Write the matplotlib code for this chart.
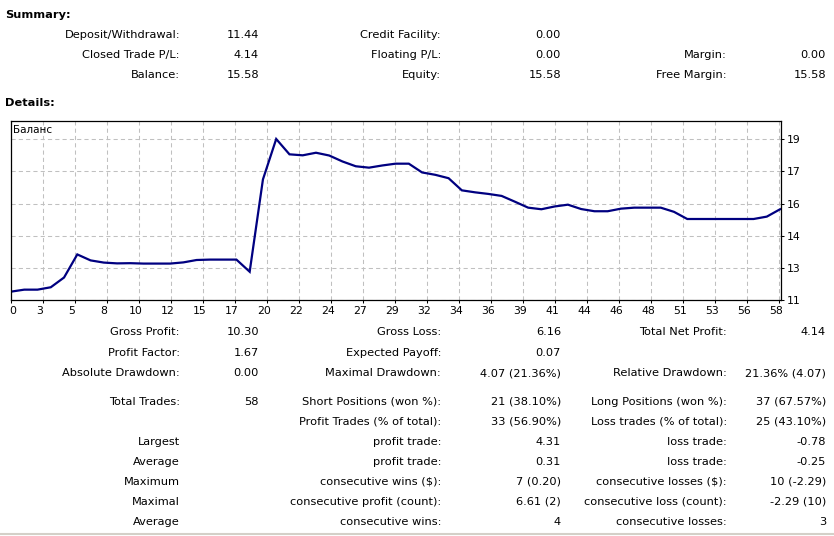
"""MT4 strategy tester report: summary, balance curve and details table."""
import matplotlib
matplotlib.use('Agg')
import matplotlib.pyplot as plt
import matplotlib.transforms as mtransforms

W, H = 834, 536
FONT = 'DejaVu Sans'
FS = 8.2
TICK_FS = 7.8

# balance after each trade (trade 0 = initial deposit)
balance = [11.44, 11.54, 11.54, 11.66, 12.15, 13.31, 13.01, 12.90, 12.86, 12.87,
           12.85, 12.85, 12.85, 12.91, 13.03, 13.05, 13.05, 13.05, 12.44, 17.08,
           19.11, 18.34, 18.29, 18.42, 18.28, 17.98, 17.74, 17.67, 17.78, 17.87,
           17.87, 17.43, 17.31, 17.14, 16.53, 16.43, 16.35, 16.25, 15.96, 15.66,
           15.58, 15.72, 15.81, 15.59, 15.48, 15.48, 15.61, 15.66, 15.66, 15.66,
           15.45, 15.09, 15.09, 15.09, 15.09, 15.09, 15.09, 15.21, 15.58]
trades = list(range(len(balance)))

x_tick_labels = ['0', '3', '5', '8', '10', '12', '15', '17', '20', '22', '24', '27', '29',
                 '32', '34', '36', '39', '41', '44', '46', '48', '51', '53', '56', '58']
y_tick_labels = ['11', '13', '14', '16', '17', '19']

summary_rows = [
    ['Deposit/Withdrawal:', '11.44', 'Credit Facility:', '0.00', '', ''],
    ['Closed Trade P/L:', '4.14', 'Floating P/L:', '0.00', 'Margin:', '0.00'],
    ['Balance:', '15.58', 'Equity:', '15.58', 'Free Margin:', '15.58'],
]
details_rows = [
    ['Gross Profit:', '10.30', 'Gross Loss:', '6.16', 'Total Net Profit:', '4.14'],
    ['Profit Factor:', '1.67', 'Expected Payoff:', '0.07', '', ''],
    ['Absolute Drawdown:', '0.00', 'Maximal Drawdown:', '4.07 (21.36%)',
     'Relative Drawdown:', '21.36% (4.07)'],
    ['Total Trades:', '58', 'Short Positions (won %):', '21 (38.10%)',
     'Long Positions (won %):', '37 (67.57%)'],
    ['', '', 'Profit Trades (% of total):', '33 (56.90%)',
     'Loss trades (% of total):', '25 (43.10%)'],
    ['Largest', '', 'profit trade:', '4.31', 'loss trade:', '-0.78'],
    ['Average', '', 'profit trade:', '0.31', 'loss trade:', '-0.25'],
    ['Maximum', '', 'consecutive wins ($):', '7 (0.20)',
     'consecutive losses ($):', '10 (-2.29)'],
    ['Maximal', '', 'consecutive profit (count):', '6.61 (2)',
     'consecutive loss (count):', '-2.29 (10)'],
    ['Average', '', 'consecutive wins:', '4', 'consecutive losses:', '3'],
]

# layout in pixels
col_right = [180, 259, 441, 561, 727, 826]
summary_y = [35, 55, 75]
details_y = [332, 353, 373, 402, 422, 442, 462, 482, 502, 522]


def fx(x):
    return x / W


def fy(y):
    return 1 - y / H


def put(fig, x, y, s, ha='right', bold=False):
    fig.text(fx(x), fy(y), s, ha=ha, va='center', fontsize=FS, family=FONT,
             fontweight='bold' if bold else 'normal', parse_math=False)


fig = plt.figure(figsize=(W / 100, H / 100), dpi=100)
fig.patch.set_facecolor('white')

put(fig, 5, 15, 'Summary:', ha='left', bold=True)
put(fig, 5, 103, 'Details:', ha='left', bold=True)
for row, y in zip(summary_rows, summary_y):
    for s, x in zip(row, col_right):
        if s:
            put(fig, x, y, s)
for row, y in zip(details_rows, details_y):
    for s, x in zip(row, col_right):
        if s:
            put(fig, x, y, s)

# balance chart, plot box 11..781 x 121..300 px
ax = fig.add_axes([fx(11), fy(300), 770 / W, 179 / H])
px_per_trade = 13.26
ax.set_xlim(0, 770 / px_per_trade)
y_bottom, y_step = 11.02, 1.615
ax.set_ylim(y_bottom, y_bottom + y_step * 179 / 32.14)

xt = [k * 32 / px_per_trade for k in range(len(x_tick_labels))]
yt = [y_bottom + k * y_step for k in range(len(y_tick_labels))]
ax.set_xticks(xt)
ax.set_xticklabels(x_tick_labels)
ax.set_yticks(yt)
ax.set_yticklabels(y_tick_labels)
ax.yaxis.tick_right()
ax.tick_params(axis='both', direction='out', length=2.5, width=0.75,
               labelsize=TICK_FS, pad=1.5, colors='black')
for i, lab in enumerate(ax.get_xticklabels()):
    lab.set_family(FONT)
    shift = 0.02 if i == 0 else -0.03
    lab.set_transform(lab.get_transform() +
                      mtransforms.ScaledTranslation(shift, 0, fig.dpi_scale_trans))
for lab in ax.get_yticklabels():
    lab.set_family(FONT)

ax.grid(True, color='#c0c0c0', linewidth=0.75, linestyle=(0, (4, 3)))
ax.set_axisbelow(True)
for sp in ax.spines.values():
    sp.set_linewidth(0.9)
    sp.set_color('black')

ax.plot(trades, balance, color='#000080', linewidth=1.6, solid_joinstyle='miter')
ax.text(2 / 770, 0.95, 'Баланс', transform=ax.transAxes, ha='left', va='center',
        fontsize=TICK_FS - 0.3, family=FONT)

# window edge at the bottom
fig.add_artist(plt.Line2D([0, 1], [fy(534), fy(534)], color='#d4d0c8',
                          linewidth=1.5, transform=fig.transFigure))

fig.savefig('out.png', dpi=100)
